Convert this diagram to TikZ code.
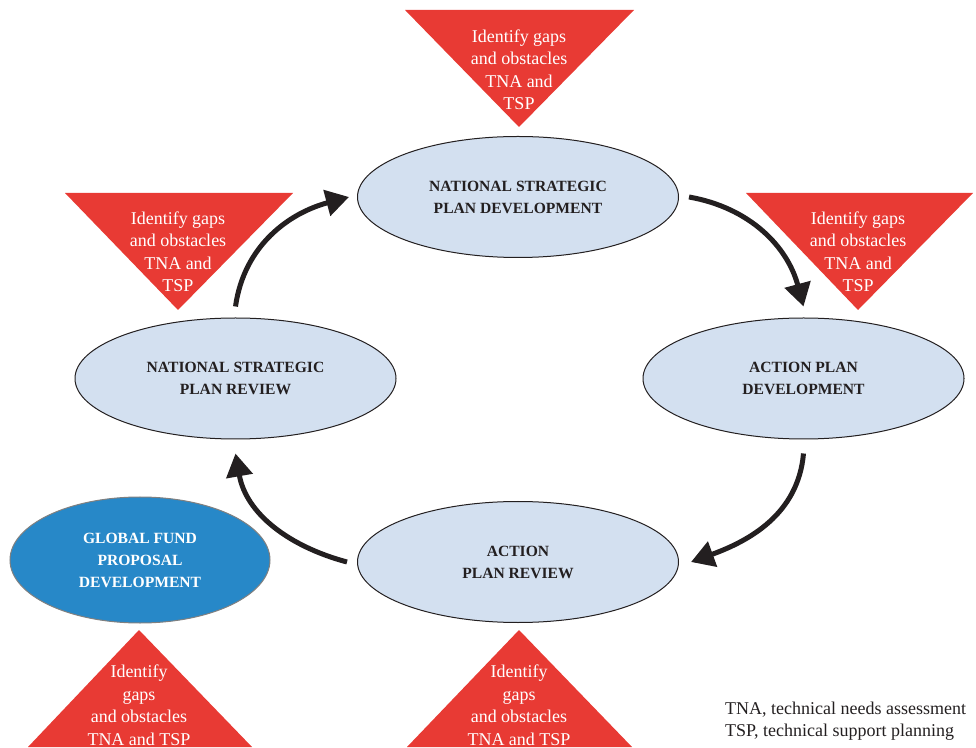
\documentclass[tikz,border=0pt]{standalone}
\usepackage{fontspec}
\setmainfont{Liberation Serif}
\usetikzlibrary{shapes.geometric, arrows.meta, positioning, calc}
\definecolor{gapred}{RGB}{232,58,52}
\definecolor{phaseblue}{RGB}{211,224,240}
\definecolor{fundblue}{RGB}{39,136,200}
\definecolor{ink}{RGB}{35,31,32}
\tikzset{
    phase/.style={
        ellipse,
        draw=ink,
        line width=1pt,
        fill=phaseblue,
        minimum width=321pt,
        minimum height=121pt,
        inner sep=0pt,
        align=center,
        text=ink,
        font=\fontsize{15.6}{22}\selectfont\bfseries,
    },
    fund/.style={
        ellipse,
        draw=gray,
        line width=1pt,
        fill=fundblue,
        minimum width=260pt,
        minimum height=126pt,
        inner sep=0pt,
        align=center,
        text=white,
        font=\fontsize{15.6}{22}\selectfont\bfseries,
    },
    gap/.style={
        text=white,
        align=center,
        inner sep=0pt,
        font=\fontsize{18}{22.5}\selectfont,
    },
    flow/.style={
        -{Triangle[length=23pt,width=26pt]},
        line width=5pt,
        draw=ink,
    },
}
\begin{document}
\begin{tikzpicture}[x=1pt,y=1pt]
      \useasboundingbox (0,0) rectangle (976,747);

      % red triangles
      \fill[gapred] (405,737) -- (634,737) -- (519,620) -- cycle;
      \fill[gapred] (746,554) -- (973,554) -- (858,437) -- cycle;
      \fill[gapred] (65,554) -- (293,554) -- (178,437) -- cycle;
      \fill[gapred] (28,0) -- (252,0) -- (139,117) -- cycle;
      \fill[gapred] (407,0) -- (632,0) -- (519,117) -- cycle;

      \node [gap] (T1) at (519,677) {Identify gaps\\ and obstacles\\ TNA and\\ TSP};
      \node [gap] (T2) at (858,495) {Identify gaps\\ and obstacles\\ TNA and\\ TSP};
      \node [gap] (T3) at (178,495) {Identify gaps\\ and obstacles\\ TNA and\\ TSP};
      \node [gap] (T4) at (139,42) {Identify\\ gaps\\ and obstacles\\ TNA and TSP};
      \node [gap] (T5) at (519,42) {Identify\\ gaps\\ and obstacles\\ TNA and TSP};

      % cycle
      \node [phase] (NSPD) at (518,550) {NATIONAL STRATEGIC\\ PLAN DEVELOPMENT};
      \node [phase] (APD) at (803.5,368.5) {ACTION PLAN\\ DEVELOPMENT};
      \node [phase] (APR) at (518,185) {ACTION\\ PLAN REVIEW};
      \node [phase] (NSPR) at (235.5,368.5) {NATIONAL STRATEGIC\\ PLAN REVIEW};
      \node [fund] (GF) at (140,187) {GLOBAL FUND\\ PROPOSAL\\ DEVELOPMENT};

      \draw[flow] ([yshift=11pt]NSPR.north) to[out=82,in=195] ([xshift=-8pt]NSPD.west);
      \draw[flow] ([xshift=10pt]NSPD.east) to[out=-10,in=105] ([yshift=11pt]APD.north);
      \draw[flow] ([yshift=-14pt]APD.south) to[out=-95,in=20] ([xshift=12pt]APR.east);
      \draw[flow] ([xshift=-10pt]APR.west) to[out=165,in=-80] ([yshift=-14pt]NSPR.south);

      \node [anchor=west, align=left, inner sep=0pt, text=ink,
             font=\fontsize{18}{22}\selectfont] (key) at (725,26)
            {TNA, technical needs assessment\\ TSP, technical support planning};
    \end{tikzpicture}
\end{document}
